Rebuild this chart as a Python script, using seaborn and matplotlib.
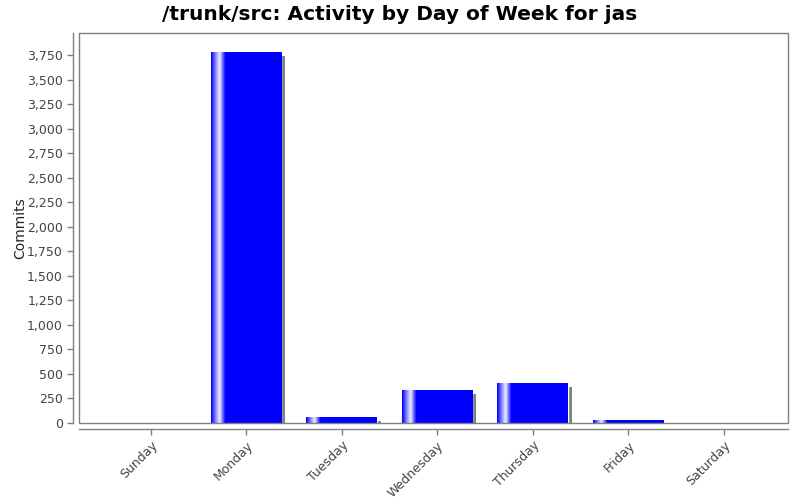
import numpy as np
import pandas as pd
import matplotlib
matplotlib.use("Agg")
import matplotlib.pyplot as plt
import matplotlib.transforms as mtransforms
from matplotlib.patches import Rectangle
from matplotlib.colors import LinearSegmentedColormap
import seaborn as sns

# Datos
days = ["Sunday", "Monday", "Tuesday", "Wednesday", "Thursday", "Friday", "Saturday"]
commits = [0, 3785, 52, 334, 408, 25, 0]

sns.set_theme(style="white")
plt.rcParams['font.family'] = ['DejaVu Sans']

df = pd.DataFrame({"day": days, "commits": commits})

fig = plt.figure(figsize=(8, 5), dpi=100)
ax = fig.add_axes([79 / 800, 77 / 500, 709 / 800, 390 / 500])

sns.barplot(data=df, x="day", y="commits", color="#0000ff", width=0.74,
            saturation=1, ax=ax, zorder=3)

# Degradado horizontal tipo JFreeChart y sombra gris desplazada
grad = LinearSegmentedColormap.from_list(
    "bar", [(0.0, "#0000ff"), (0.06, "#8080ff"), (0.12, "#f0f0ff"),
            (0.2, "#0000ff"), (1.0, "#0000ff")])
shadow_tr = mtransforms.offset_copy(ax.transData, fig=fig, x=4, y=-4, units="dots")
for p in list(ax.patches):
    x0, w, h = p.get_x(), p.get_width(), p.get_height()
    if h <= 0:
        continue
    ax.add_patch(Rectangle((x0, 0), w, h, transform=shadow_tr, facecolor="#808080",
                           edgecolor="none", zorder=2, clip_on=True))
    ax.imshow(np.linspace(0, 1, 200).reshape(1, -1), cmap=grad, aspect="auto",
              extent=[x0, x0 + w, 0, h], zorder=4, interpolation="bilinear")

ax.set_xlim(-0.75, 6.675)
ax.set_ylim(-5, 3975)
ax.set_yticks(np.arange(0, 3751, 250))
ax.yaxis.set_major_formatter(matplotlib.ticker.FuncFormatter(lambda v, _: f"{int(v):,}"))

# Marco del área de trazado
ax.add_patch(Rectangle((0, 0), 1, 1, transform=ax.transAxes, fill=False,
                       edgecolor="#808080", linewidth=1, zorder=10, clip_on=False))
for s in ["top", "right"]:
    ax.spines[s].set_visible(False)
for s in ["left", "bottom"]:
    ax.spines[s].set_position(("outward", 4))
    ax.spines[s].set_color("#808080")
    ax.spines[s].set_linewidth(1)

ax.tick_params(axis="both", which="major", direction="out", length=4, width=1,
               color="#808080", labelsize=9, labelcolor="#444444", left=True, bottom=True)
plt.setp(ax.get_xticklabels(), rotation=45, ha="right", rotation_mode="anchor")

ax.set_xlabel("")
ax.set_ylabel("Commits", fontsize=10, color="#222222", labelpad=0)
fig.text(0.5, 0.972, "/trunk/src: Activity by Day of Week for jas", ha="center",
         va="center", fontsize=14.5, fontweight="bold", color="black")

fig.savefig("out.png", dpi=100, facecolor="white")
